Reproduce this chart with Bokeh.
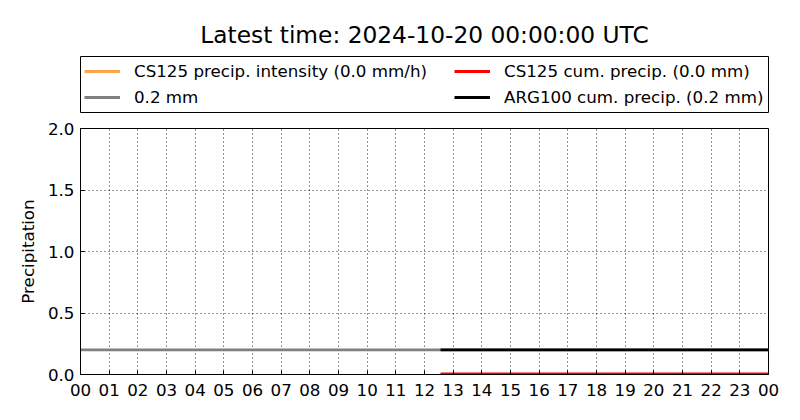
from bokeh.plotting import figure
from bokeh.layouts import column
from bokeh.models import (Range1d, FixedTicker, PrintfTickFormatter, Legend, LegendItem)
from bokeh.embed import file_html
from bokeh.resources import INLINE

# ---- data (hours since 2024-10-19 00:00 UTC) ----
title_text = "Latest time: 2024-10-20 00:00:00 UTC"
hour_ticks = list(range(25))
hour_labels = ["00", "01", "02", "03", "04", "05", "06", "07", "08", "09", "10", "11",
               "12", "13", "14", "15", "16", "17", "18", "19", "20", "21", "22", "23", "00"]
y_ticks = [0.0, 0.5, 1.0, 1.5, 2.0]

threshold_hours = [0, 24]
threshold_mm = [0.2, 0.2]

obs_hours = [12.56, 13, 14, 15, 16, 17, 18, 19, 20, 21, 22, 23, 24]
cs125_intensity = [0.0, 0.0, 0.0, 0.0, 0.0, 0.0, 0.0, 0.0, 0.0, 0.0, 0.0, 0.0, 0.0]
cs125_cum = [0.0, 0.0, 0.0, 0.0, 0.0, 0.0, 0.0, 0.0, 0.0, 0.0, 0.0, 0.0, 0.0]
arg100_cum = [0.2, 0.2, 0.2, 0.2, 0.2, 0.2, 0.2, 0.2, 0.2, 0.2, 0.2, 0.2, 0.2]

labels = ["CS125 precip. intensity (0.0 mm/h)", "CS125 cum. precip. (0.0 mm)",
          "0.2 mm", "ARG100 cum. precip. (0.2 mm)"]

FONT = "DejaVu Sans"
W = 800
TOP_H, MAIN_H = 113, 307
BL, BR = 80, 32

styles = {
    "orange": dict(line_color="#ffa64d", line_width=2.8),
    "red": dict(line_color="#ff0000", line_width=2.8),
    "gray": dict(line_color="#808080", line_width=2.8),
    "black": dict(line_color="#000000", line_width=2.8),
}

# ---------------- main plot ----------------
p = figure(width=W, height=MAIN_H, x_range=Range1d(0, 24), y_range=Range1d(0, 2),
           output_backend="svg", toolbar_location=None,
           min_border_left=BL, min_border_right=BR, min_border_bottom=46, min_border_top=15,
           background_fill_color="white", border_fill_color="white")

p.line(threshold_hours, threshold_mm, **styles["gray"])
p.line(obs_hours, cs125_intensity, **styles["orange"])
p.line(obs_hours, cs125_cum, line_color="#ff0000", line_width=4.2)
p.line(obs_hours, arg100_cum, **styles["black"])

for ax in (p.xaxis[0], p.yaxis[0]):
    ax.major_tick_in = 4
    ax.major_tick_out = 0
    ax.minor_tick_in = 0
    ax.minor_tick_out = 0
    ax.axis_line_color = "black"
    ax.major_tick_line_color = "black"
    ax.major_label_text_font = FONT
    ax.major_label_text_font_size = "16.7px"
    ax.major_label_text_color = "black"

p.xaxis.ticker = FixedTicker(ticks=hour_ticks)
p.xaxis.major_label_overrides = {t: l for t, l in zip(hour_ticks, hour_labels)}
p.xaxis.major_label_standoff = 9
p.yaxis.ticker = FixedTicker(ticks=y_ticks)
p.yaxis.formatter = PrintfTickFormatter(format="%.1f")
p.yaxis.major_label_standoff = 6
p.yaxis.axis_label = "Precipitation"
p.yaxis.axis_label_text_font = FONT
p.yaxis.axis_label_text_font_size = "16.7px"
p.yaxis.axis_label_text_font_style = "normal"
p.yaxis.axis_label_text_color = "black"
p.yaxis.axis_label_standoff = 7

for g in (p.xgrid[0], p.ygrid[0]):
    g.grid_line_color = "black"
    g.grid_line_alpha = 0.85
    g.grid_line_dash = "1 3"
    g.grid_line_width = 1
p.xgrid.ticker = FixedTicker(ticks=hour_ticks)
p.ygrid.ticker = FixedTicker(ticks=y_ticks)

p.outline_line_color = "black"
p.outline_line_alpha = 1
p.outline_line_width = 1

# ---------------- title + legend strip (its frame is the legend box) ----------------
top = figure(width=W, height=TOP_H, x_range=Range1d(0, 24), y_range=Range1d(10, 11),
             output_backend="svg", toolbar_location=None, title=title_text,
             x_axis_location=None, y_axis_location=None,
             min_border_left=BL, min_border_right=BR,
             min_border_top=56, min_border_bottom=0,
             background_fill_color="white", border_fill_color="white")
top.grid.visible = False
top.outline_line_color = "black"
top.outline_line_alpha = 1
top.outline_line_width = 1
top.title.text_font = FONT
top.title.text_font_size = "23.3px"
top.title.text_font_style = "normal"
top.title.text_color = "black"
top.title.align = "center"
top.title.standoff = 17

# legend samples: same series, outside this strip's visible y range
k_gray = top.line(threshold_hours, threshold_mm, **styles["gray"])
k_orange = top.line(obs_hours, cs125_intensity, **styles["orange"])
k_red = top.line(obs_hours, cs125_cum, **styles["red"])
k_black = top.line(obs_hours, arg100_cum, **styles["black"])

common = dict(padding=6, spacing=6, glyph_width=36, glyph_height=20, margin=0,
              label_height=20, label_standoff=14,
              label_text_font=FONT, label_text_font_size="16.7px",
              label_text_color="black", border_line_color=None,
              background_fill_alpha=0)
legend_a = Legend(items=[LegendItem(label=labels[0], renderers=[k_orange]),
                         LegendItem(label=labels[2], renderers=[k_gray])],
                  location=(4, 6), **common)
legend_b = Legend(items=[LegendItem(label=labels[1], renderers=[k_red]),
                         LegendItem(label=labels[3], renderers=[k_black])],
                  location=(374, 6), **common)
top.add_layout(legend_a, "center")
top.add_layout(legend_b, "center")

layout = column(top, p, spacing=0)
open("out.html", "w").write(file_html(layout, INLINE))
